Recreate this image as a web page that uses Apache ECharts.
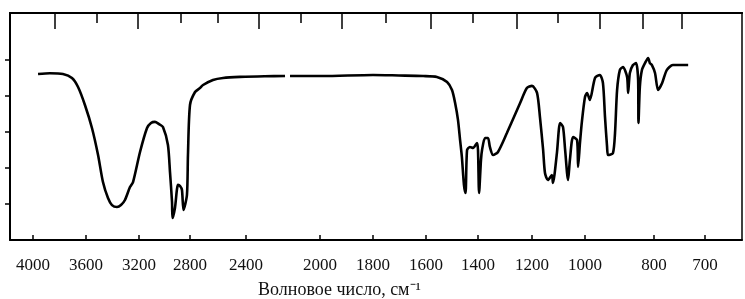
<!DOCTYPE html>
<html>
<head>
<meta charset="utf-8">
<script src="https://cdn.jsdelivr.net/npm/echarts@6/dist/echarts.min.js"></script>
<style>
  html, body { margin: 0; padding: 0; background: #fff; }
  #chart { width: 745px; height: 299px; }
</style>
</head>
<body>
<div id="chart"></div>
<script>
  // спектр: волновое число (см-1) и пропускание (усл. ед.), null = разрыв шкалы
  const wavenumber = [
    3962, 3872, 3774, 3706, 3660, 3608, 3555, 3509, 3472, 3434, 3404, 3366, 3336, 3306, 3268, 3245,
    3192, 3137, 3106, 3075, 3043, 3012, 2973, 2957, 2941, 2937, 2918, 2894, 2878, 2863, 2851, 2824,
    2816, 2800, 2764, 2729, 2707, 2636, 2564, 2443, 2300, 2189, null, 2162, 1989, 1800, 1702, 1611,
    1558, 1519, 1500, 1488, 1477, 1469, 1462, 1454, 1448, 1442, 1431, 1419, 1404, 1400, 1396, 1389,
    1385, 1374, 1363, 1356, 1344, 1326, 1293, 1244, 1219, 1200, 1181, 1170, 1158, 1151, 1140, 1125,
    1121, 1106, 1094, 1083, 1075, 1064, 1057, 1045, 1030, 1026, 1019, 1011, 1000, 994, 986, 971,
    957, 948, 942, 936, 933, 919, 913, 907, 899, 890, 878, 875, 870, 861, 852, 846,
    845, 841, 835, 826, 817, 812, 806, 798, 792, 784, 775, 763, 733
  ];
  const transmittance = [
    92.2, 92.6, 92.2, 90, 85, 75, 62.2, 47.2, 32.2, 23.3, 19.4, 18.3, 19.4, 22.2, 29.4, 32.2,
    48.9, 62.2, 65, 65.6, 64.4, 62.8, 52.8, 37.8, 21.1, 12.2, 17.8, 30.6, 30, 27.8, 16.7, 25,
    47.2, 75, 82.2, 84.4, 86.1, 88.9, 90, 90.6, 91, 91.1, null, 91.1, 91.1, 91.7, 91.4, 91.1,
    90.6, 87.8, 83.3, 76.1, 66.7, 55.6, 46.1, 30.6, 26.1, 50, 51.7, 51.1, 53.9, 50, 26.1, 44.4,
    50, 56.7, 56.7, 51.7, 47.2, 48.9, 59.4, 76.1, 84.4, 85.6, 81.7, 68.3, 50, 37.2, 33.3, 36.1,
    31.7, 48.3, 65, 62.8, 50, 33.3, 44.4, 57.2, 55.6, 40.6, 53.9, 66.7, 79.4, 81.7, 77.8, 90,
    91.7, 87.2, 68.3, 51.7, 47.2, 48.3, 59.4, 83.3, 94.4, 96.1, 90.6, 81.7, 92.8, 97.2, 98.3, 88.9,
    65, 85, 94.4, 98.3, 101.1, 98.3, 97.2, 92.8, 83.3, 87.2, 94.4, 97.2, 97.2
  ];
  // подписи нижней оси
  const tickLabels = [4000, 3600, 3200, 2800, 2400, 2000, 1800, 1600, 1400, 1200, 1000, 800, 700];
  // штрихи верхней шкалы (в см-1)
  const topMajor = [3834, 3208, 2330, 1917, 1581, 1256, 957, 832, 745];
  const topMinor = [3517, 2871, 2600, 2103, 1751, 1419, 1102];
  const yTicks = [20, 40, 60, 80, 100];

  // шкала прибора неравномерная: узлы волновое число -> позиция на оси
  const scaleKnots = [33, 86, 139, 190, 246, 320, 373, 426, 478, 532, 585, 654, 705];

  function toPos(w) {
    const k = tickLabels, p = scaleKnots;
    let i = 0;
    while (i < k.length - 2 && w < k[i + 1]) i++;
    return p[i] + (w - k[i]) * (p[i + 1] - p[i]) / (k[i + 1] - k[i]);
  }

  const data = wavenumber.map((w, i) => w === null ? [null, null] : [toPos(w), transmittance[i]]);
  const labelPos = tickLabels.map(toPos);

  const serif = 'Liberation Serif';
  const chart = echarts.init(document.getElementById('chart'));

  function topAxis(ticks, len) {
    return {
      type: 'value', position: 'top', offset: 0, min: 10, max: 742,
      axisLine: { show: true, onZero: false, lineStyle: { color: '#000', width: 2 } },
      axisTick: { show: true, inside: true, length: len, customValues: ticks.map(toPos), lineStyle: { color: '#000', width: 1.5 } },
      axisLabel: { show: false },
      splitLine: { show: false }
    };
  }

  chart.setOption({
    animation: false,
    grid: { left: 10, right: 3, top: 13, bottom: 59 },
    xAxis: [
      {
        type: 'value', position: 'bottom', min: 10, max: 742,
        axisLine: { show: true, onZero: false, lineStyle: { color: '#000', width: 2 } },
        axisTick: { show: true, inside: true, length: 5, customValues: labelPos, lineStyle: { color: '#000', width: 1.5 } },
        axisLabel: {
          customValues: labelPos,
          margin: 17,
          fontFamily: serif,
          fontSize: 17,
          color: '#111',
          formatter: function (v) {
            const i = labelPos.findIndex(p => Math.abs(p - v) < 0.01);
            return i >= 0 ? String(tickLabels[i]) : '';
          }
        },
        splitLine: { show: false }
      },
      topAxis(topMajor, 16),
      topAxis(topMinor, 10)
    ],
    yAxis: [
      {
        type: 'value', min: 0, max: 126.1,
        axisLine: { show: true, onZero: false, lineStyle: { color: '#000', width: 2 } },
        axisTick: { show: true, inside: false, length: 5, customValues: yTicks, lineStyle: { color: '#000', width: 1.5 } },
        axisLabel: { show: false },
        splitLine: { show: false }
      },
      {
        type: 'value', position: 'right', min: 0, max: 126.1,
        axisLine: { show: true, onZero: false, lineStyle: { color: '#000', width: 1.5 } },
        axisTick: { show: false },
        axisLabel: { show: false },
        splitLine: { show: false }
      }
    ],
    graphic: [
      {
        type: 'text',
        left: 258,
        top: 281,
        style: {
          text: 'Волновое число, см⁻¹',
          fontFamily: serif,
          fontSize: 18,
          fill: '#111'
        }
      }
    ],
    series: [
      {
        type: 'line',
        data: data,
        showSymbol: false,
        smooth: 0.25,
        connectNulls: false,
        lineStyle: { color: '#000', width: 2.6 }
      }
    ]
  });
</script>
</body>
</html>
